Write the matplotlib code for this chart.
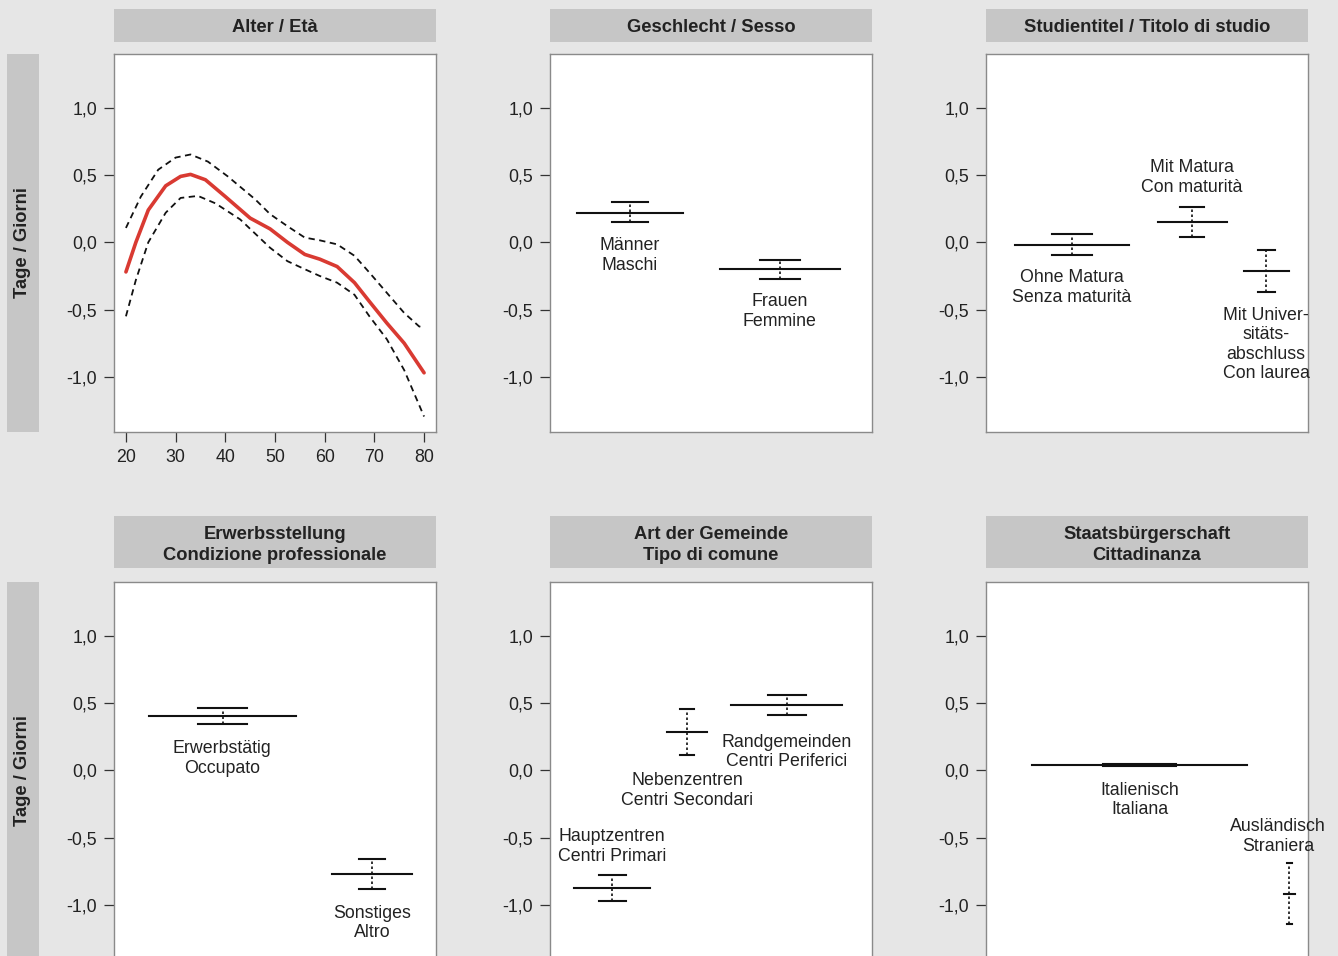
import numpy as np
import matplotlib
matplotlib.use('Agg')
from matplotlib import pyplot as plt
from matplotlib.patches import Rectangle

plt.rcParams['font.family'] = ['Liberation Sans', 'DejaVu Sans']

# Alter / Età: smooth effect with confidence band
age_fit = [20, 22, 24.5, 28, 31, 33, 36, 40, 45, 49, 52.5, 56, 59, 62.5, 66, 69, 72.5, 76, 80]
fit = [-0.22, 0.0, 0.24, 0.42, 0.49, 0.505, 0.465, 0.34, 0.18, 0.10, 0.0, -0.09, -0.125,
       -0.18, -0.30, -0.44, -0.60, -0.75, -0.97]
age_up = [20, 23, 26.5, 30, 33, 36.5, 40.5, 46, 49, 52.5, 56, 59, 62.5, 66, 69, 72.5, 76, 79, 80]
upper = [0.107, 0.34, 0.54, 0.63, 0.653, 0.60, 0.49, 0.32, 0.21, 0.12, 0.035, 0.015, -0.015,
         -0.10, -0.225, -0.375, -0.525, -0.625, -0.635]
age_lo = [20, 22, 24.5, 28, 31, 34.5, 38, 43, 49, 52.5, 56, 59, 62.5, 66, 69, 72.5, 76, 80]
lower = [-0.55, -0.28, 0.0, 0.22, 0.33, 0.345, 0.29, 0.17, -0.04, -0.14, -0.20, -0.25,
         -0.30, -0.39, -0.55, -0.72, -0.95, -1.295]

# Categorical effects: labels, estimate, lower, upper
sex_labels = ['Männer\nMaschi', 'Frauen\nFemmine']
sex_est = [0.22, -0.20]
sex_lo = [0.15, -0.27]
sex_hi = [0.30, -0.13]

edu_labels = ['Ohne Matura\nSenza maturità', 'Mit Matura\nCon maturità',
              'Mit Univer-\nsitäts-\nabschluss\nCon laurea']
edu_est = [-0.02, 0.15, -0.21]
edu_lo = [-0.094, 0.037, -0.37]
edu_hi = [0.06, 0.26, -0.057]

job_labels = ['Erwerbstätig\nOccupato', 'Sonstiges\nAltro']
job_est = [0.406, -0.77]
job_lo = [0.344, -0.884]
job_hi = [0.466, -0.66]

mun_labels = ['Hauptzentren\nCentri Primari', 'Nebenzentren\nCentri Secondari',
              'Randgemeinden\nCentri Periferici']
mun_est = [-0.874, 0.285, 0.485]
mun_lo = [-0.973, 0.111, 0.414]
mun_hi = [-0.775, 0.455, 0.557]

cit_labels = ['Italienisch\nItaliana', 'Ausländisch\nStraniera']
cit_est = [0.04, -0.92]
cit_lo = [0.03, -1.14]
cit_hi = [0.05, -0.69]

yticks = [-1.0, -0.5, 0.0, 0.5, 1.0]
ytick_labels = ['-1,0', '-0,5', '0,0', '0,5', '1,0']
xticks_age = [20, 30, 40, 50, 60, 70, 80]

# Layout of the categorical panels (axis fraction): line span, cap half width,
# label position
sex_layout = dict(x0=[0.084, 0.528], x1=[0.413, 0.901], cap=[0.056, 0.062],
                  lx=[0.248, 0.714], ly=[-0.10, -0.515])
edu_layout = dict(x0=[0.090, 0.534, 0.801], x1=[0.444, 0.748, 0.941], cap=[0.061, 0.037, 0.025],
                  lx=[0.267, 0.640, 0.870], ly=[-0.337, 0.48, -0.76])
job_layout = dict(x0=[0.109, 0.677], x1=[0.565, 0.925], cap=[0.076, 0.040],
                  lx=[0.335, 0.801], ly=[0.09, -1.134])
mun_layout = dict(x0=[0.075, 0.363, 0.562], x1=[0.311, 0.488, 0.907], cap=[0.042, 0.022, 0.059],
                  lx=[0.193, 0.427, 0.735], ly=[-0.567, -0.149, 0.137])
cit_layout = dict(x0=[0.143, 0.925], x1=[0.811, 0.960], cap=[0.113, 0.009],
                  lx=[0.478, 0.907], ly=[-0.22, -0.49])

BG = '#e6e6e6'
STRIP = '#c6c6c6'
FRAME = '#8a8a8a'
TXT = '#222222'

W, H = 1338, 956
fig = plt.figure(figsize=(W / 100, H / 100), dpi=100, facecolor=BG)


def px_rect(x, y, w, h):
    # pixel box (from top-left) -> figure fraction
    return [x / W, 1 - (y + h) / H, w / W, h / H]


def strip(x, y, w, h, text, rotation=0, shift=0):
    r = px_rect(x, y, w, h)
    fig.patches.append(Rectangle((r[0], r[1]), r[2], r[3], transform=fig.transFigure,
                                 facecolor=STRIP, edgecolor='none', zorder=0))
    fig.text(r[0] + r[2] / 2, r[1] + r[3] / 2 - shift / H, text, ha='center', va='center',
             fontsize=13.2, fontweight='bold', color=TXT, rotation=rotation,
             linespacing=1.25)


def setup(ax):
    ax.set_facecolor('white')
    ax.set_ylim(-1.41, 1.40)
    ax.set_yticks(yticks)
    ax.set_yticklabels(ytick_labels)
    for s in ax.spines.values():
        s.set_color(FRAME)
        s.set_linewidth(1.0)
    ax.tick_params(axis='both', length=7, width=0.9, color='#333333', labelsize=12.8,
                   labelcolor=TXT, pad=5)


def cat_panel(ax, labels, est, lo, hi, lay):
    setup(ax)
    ax.set_xlim(0, 1)
    ax.set_xticks([])
    for i in range(len(labels)):
        xc = (lay['x0'][i] + lay['x1'][i]) / 2
        cw = lay['cap'][i]
        ax.plot([lay['x0'][i], lay['x1'][i]], [est[i], est[i]], color='#111111', lw=1.5)
        ax.plot([xc - cw, xc + cw], [lo[i], lo[i]], color='#111111', lw=1.5)
        ax.plot([xc - cw, xc + cw], [hi[i], hi[i]], color='#111111', lw=1.5)
        ax.plot([xc, xc], [lo[i], hi[i]], color='#111111', lw=1.2, ls=(0, (1.5, 1.5)))
        ax.text(lay['lx'][i], lay['ly'][i], labels[i], ha='center', va='center',
                fontsize=12.8, color=TXT, linespacing=1.2, clip_on=False)


cols = [114, 550, 986]
ax_w, ax_h = 322, 378
row_top = [54, 582]

axes = [[fig.add_axes(px_rect(c, t, ax_w, ax_h)) for c in cols] for t in row_top]

# Age panel
ax = axes[0][0]
setup(ax)
ax.set_xlim(17.6, 82.4)
ax.set_xticks(xticks_age)
ax.plot(age_fit, fit, color='#d93a32', lw=2.6, solid_capstyle='round', solid_joinstyle='round')
ax.plot(age_up, upper, color='#111111', lw=1.3, ls=(0, (3.5, 2.5)))
ax.plot(age_lo, lower, color='#111111', lw=1.3, ls=(0, (3.5, 2.5)))

cat_panel(axes[0][1], sex_labels, sex_est, sex_lo, sex_hi, sex_layout)
cat_panel(axes[0][2], edu_labels, edu_est, edu_lo, edu_hi, edu_layout)
cat_panel(axes[1][0], job_labels, job_est, job_lo, job_hi, job_layout)
cat_panel(axes[1][1], mun_labels, mun_est, mun_lo, mun_hi, mun_layout)
cat_panel(axes[1][2], cit_labels, cit_est, cit_lo, cit_hi, cit_layout)

# Panel headers
titles = [['Alter / Età', 'Geschlecht / Sesso', 'Studientitel / Titolo di studio'],
          ['Erwerbsstellung\nCondizione professionale', 'Art der Gemeinde\nTipo di comune',
           'Staatsbürgerschaft\nCittadinanza']]
for c, t in zip(cols, titles[0]):
    strip(c, 9, ax_w, 33, t, shift=2)
for c, t in zip(cols, titles[1]):
    strip(c, 516, ax_w, 52, t, shift=3)

# Left side strips
strip(7, 54, 32, ax_h, 'Tage / Giorni', rotation=90)
strip(7, 582, 32, ax_h, 'Tage / Giorni', rotation=90)

fig.savefig('out.png', dpi=100, facecolor=BG)
